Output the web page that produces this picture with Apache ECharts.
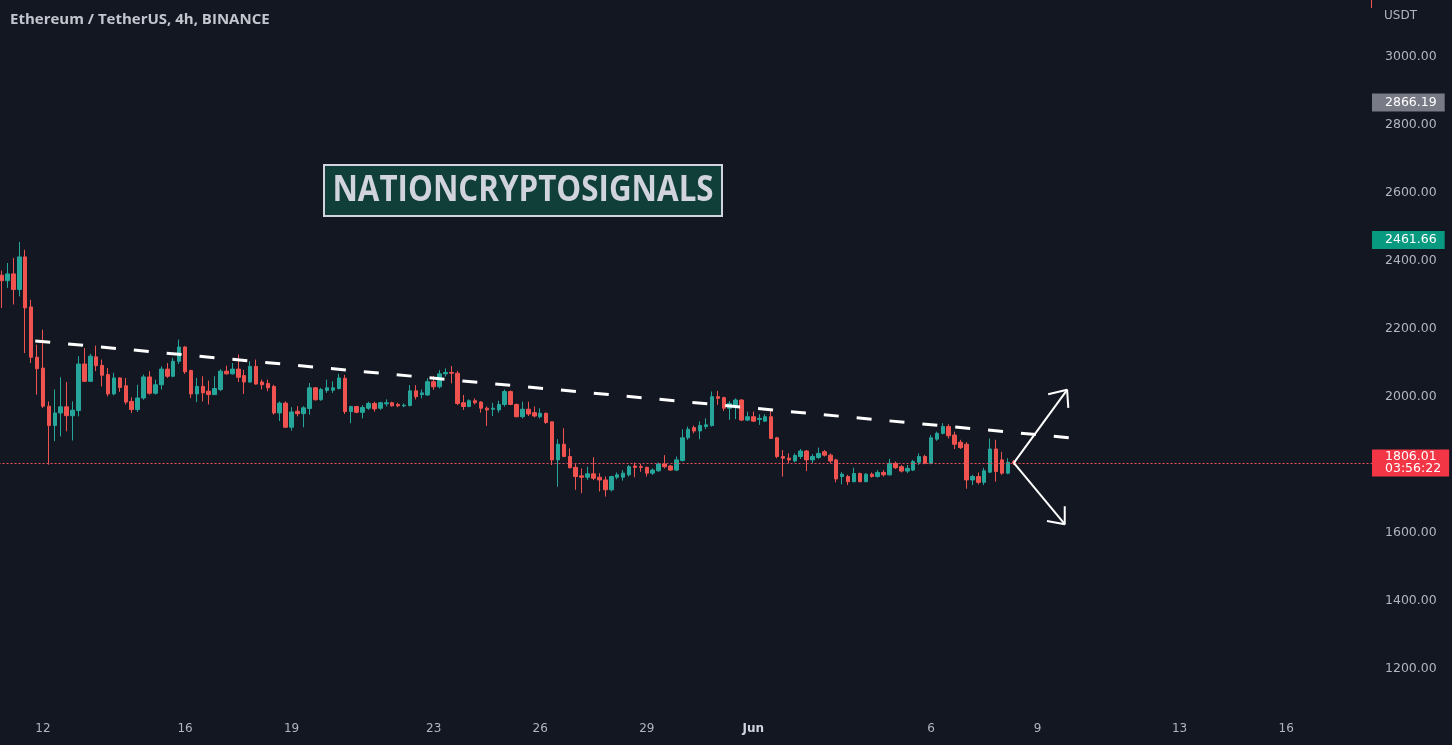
<!DOCTYPE html>
<html><head><meta charset="utf-8">
<script src="https://cdn.jsdelivr.net/npm/echarts@6/dist/echarts.min.js"></script>
<style>html,body{margin:0;padding:0;background:#131722;}#c{width:1452px;height:745px;}</style>
</head><body><div id="c"></div>
<script>
// ---- data ----
const titleText = 'Ethereum / TetherUS, 4h, BINANCE';
const watermarkText = 'NATIONCRYPTOSIGNALS';
const unitText = 'USDT';
const startTimeUTC = Date.UTC(2022, 4, 10, 20); // first visible 4h bar
const slotCount = 232; // bars visible incl. empty future space
// [open, close, low, high]
const candles = [
[2358,2342,2262,2372],[2342,2362,2321,2394],[2362,2316,2272,2409],[2316,2412,2296,2456],[2412,2262,2129,2433],
[2265,2117,2100,2286],[2117,2083,2007,2154],[2085,1973,1968,2198],[1973,1916,1801,1987],[1916,1953,1870,2022],
[1953,1971,1884,2058],[1971,1945,1899,2044],[1945,1961,1872,1987],[1960,2097,1943,2120],[2097,2046,2044,2144],
[2046,2120,2046,2127],[2118,2092,2076,2151],[2093,2064,2031,2110],[2066,2009,2002,2085],[2009,2056,2005,2071],
[2056,2028,2015,2058],[2033,1985,1978,2056],[1987,1963,1953,1999],[1963,1997,1956,2036],[1997,2059,1992,2066],
[2059,2011,2007,2076],[2011,2036,2007,2051],[2036,2082,2022,2090],[2082,2061,2056,2100],[2061,2105,2058,2115],
[2105,2147,2097,2169],[2147,2074,2068,2149],[2078,2009,1997,2080],[2009,2031,1985,2056],[2031,2012,1987,2061],
[2017,2007,1978,2048],[2007,2025,2007,2061],[2022,2076,2017,2082],[2076,2068,2066,2092],[2068,2082,2066,2100],
[2082,2058,2044,2125],[2063,2044,2009,2080],[2044,2090,2041,2105],[2090,2038,2036,2110],[2044,2036,2022,2051],
[2040,2027,2017,2051],[2031,1953,1948,2036],[1953,1982,1929,1987],[1982,1911,1909,1987],[1911,1956,1901,1970],
[1958,1951,1943,1973],[1951,1968,1911,1973],[1966,2027,1948,2041],[2027,1992,1989,2029],[1992,2022,1989,2027],
[2019,2027,2012,2051],[2020,2027,2012,2046],[2025,2056,2022,2068],[2055,1957,1950,2065],[1957,1972,1923,1974],
[1972,1955,1952,1974],[1955,1969,1937,1976],[1967,1981,1962,1986],[1981,1965,1957,1986],[1967,1983,1962,1986],
[1980,1983,1972,1993],[1983,1974,1972,1986],[1978,1974,1970,1983],[1974,1976,1970,1981],[1975,2018,1972,2035],
[2018,2001,1993,2035],[2007,2012,1996,2022],[2006,2045,2003,2055],[2045,2030,2021,2062],[2030,2068,2025,2079],
[2068,2072,2060,2084],[2072,2070,2040,2091],[2070,1981,1976,2077],[1983,1972,1962,2006],[1972,1989,1970,1993],
[1989,1983,1978,1996],[1985,1967,1954,1988],[1967,1962,1915,1972],[1964,1967,1944,1983],[1962,1978,1954,1989],
[1978,2016,1972,2022],[2016,1978,1976,2019],[1978,1942,1940,1981],[1942,1964,1937,1986],[1964,1950,1944,1986],
[1954,1944,1940,1972],[1942,1952,1937,1967],[1952,1925,1921,1954],[1927,1815,1800,1927],[1815,1861,1736,1876],
[1861,1825,1823,1908],[1825,1792,1790,1849],[1793,1766,1727,1805],[1768,1764,1717,1790],[1764,1774,1756,1795],
[1774,1761,1756,1823],[1764,1756,1722,1776],[1756,1727,1707,1766],[1727,1766,1722,1768],[1764,1771,1758,1778],
[1764,1776,1754,1785],[1771,1795,1766,1800],[1797,1793,1764,1807],[1795,1793,1780,1803],[1793,1776,1766,1795],
[1776,1785,1771,1790],[1783,1803,1780,1807],[1803,1795,1790,1829],[1797,1785,1783,1800],[1785,1815,1782,1825],
[1813,1880,1810,1905],[1880,1905,1874,1913],[1910,1900,1893,1916],[1900,1916,1876,1928],[1913,1918,1906,1937],
[1916,2001,1913,2016],[2001,1996,1977,2018],[1998,1967,1959,2001],[1967,1981,1933,1988],[1976,1991,1935,1996],
[1991,1932,1929,1994],[1932,1942,1929,1957],[1942,1929,1927,1957],[1934,1937,1918,1949],[1929,1942,1927,1949],
[1942,1878,1878,1959],[1880,1825,1820,1883],[1825,1820,1766,1844],[1820,1815,1805,1834],[1812,1828,1808,1834],
[1825,1841,1818,1847],[1841,1815,1782,1844],[1815,1825,1805,1832],[1822,1834,1818,1851],[1839,1829,1825,1844],
[1829,1812,1805,1834],[1815,1759,1749,1818],[1766,1773,1743,1779],[1766,1751,1741,1771],[1751,1775,1749,1792],
[1775,1751,1749,1778],[1751,1773,1749,1776],[1773,1766,1763,1778],[1766,1778,1763,1785],[1778,1771,1766,1785],
[1771,1805,1769,1818],[1805,1792,1788,1810],[1795,1782,1778,1800],[1782,1790,1776,1800],[1785,1810,1782,1815],
[1808,1825,1800,1834],[1825,1805,1802,1830],[1805,1880,1802,1888],[1876,1893,1871,1898],[1893,1913,1890,1923],
[1913,1886,1878,1920],[1888,1861,1847,1898],[1867,1851,1847,1874],[1861,1756,1730,1867],[1756,1766,1741,1771],
[1766,1749,1743,1778],[1749,1783,1741,1792],[1779,1847,1776,1878],[1847,1781,1751,1874],[1815,1776,1771,1839],
[1776,1808,1773,1820],[1810,1806.01,1800,1815]
];
const tickKeys   = ['05-12 00','05-16 00','05-19 00','05-23 00','05-26 00','05-29 00','06-01 00','06-06 00','06-09 00','06-13 00','06-16 00'];
const tickLabels = ['12','16','19','23','26','29','Jun','6','9','13','16'];
const yTickValues = [1200,1400,1600,2000,2200,2400,2600,2800,3000];
const yMin = 1088.2, yMax = 3167.6;
const priceTags = [2866.19, 2461.66];
const lastPrice = 1806.01;
const countdown = '03:56:22';
// trendline and arrows in data units (bar index, price)
const trendIdx = [5.7, 180.5];
const trendPrice = [2165, 1880];
const arrowStart = [171, 1806];
const upTip = [180.0, 2021];
const upHeadA = [176.8, 2008];
const upHeadB = [180.2, 1968];
const downTip = [179.6, 1626];
const downHeadA = [179.6, 1679];
const downHeadB = [176.6, 1635];

// ---- build ----
const pad = n => String(n).padStart(2, '0');
const categories = [];
for (let i = 0; i < slotCount; i++) {
  const d = new Date(startTimeUTC + i * 4 * 3600 * 1000);
  categories.push(pad(d.getUTCMonth() + 1) + '-' + pad(d.getUTCDate()) + ' ' + pad(d.getUTCHours()));
}
const tickMap = {};
tickKeys.forEach((k, i) => tickMap[k] = tickLabels[i]);

const UP = '#26a69a', DOWN = '#ef5350';
const FONT = 'DejaVu Sans';
const chart = echarts.init(document.getElementById('c'), null, {renderer: 'canvas'});

function tagLabel(bg, text) {
  return {
    show: true, position: 'end', distance: 0, formatter: text,
    color: '#ffffff', fontFamily: FONT, fontSize: 12.5, lineHeight: 14,
    backgroundColor: bg, padding: [2, 8, 2, 13], align: 'left', opacity: 1
  };
}
const arrowLine = (data) => ({
  type: 'line', xAxisIndex: 1, yAxisIndex: 0, data: data, symbol: 'none', silent: true,
  lineStyle: {color: '#ffffff', width: 2}, z: 10, animation: false
});

chart.setOption({
  backgroundColor: '#131722',
  animation: false,
  title: {
    text: titleText, left: 10, top: 12, padding: 0,
    textStyle: {color: '#c3c6ce', fontFamily: 'Open Sans', fontSize: 15, fontWeight: 'bold'}
  },
  grid: {left: -1.46, right: 80, top: 0, bottom: 38, outerBoundsMode: 'none', containLabel: false},
  xAxis: [{
    type: 'category', data: categories, boundaryGap: true,
    axisLine: {show: false}, axisTick: {show: false}, splitLine: {show: false},
    axisLabel: {
      interval: (idx, val) => tickMap[val] !== undefined,
      formatter: val => tickMap[val] === 'Jun' ? '{b|Jun}' : tickMap[val],
      color: '#b2b5be', fontFamily: FONT, fontSize: 12, margin: 16,
      rich: {b: {color: '#d1d4dc', fontFamily: FONT, fontSize: 12, fontWeight: 'bold'}}
    }
  }, {
    type: 'value', min: -0.5, max: slotCount - 0.5, show: false
  }],
  yAxis: {
    type: 'value', position: 'right', min: yMin, max: yMax, scale: true,
    axisLine: {show: false}, axisTick: {show: false}, splitLine: {show: false},
    axisLabel: {
      customValues: yTickValues, formatter: v => v.toFixed(2),
      color: '#b2b5be', fontFamily: FONT, fontSize: 12.5, margin: 13
    }
  },
  graphic: [
    {type: 'text', left: 1384, top: 10, style: {text: unitText, fill: '#b2b5be', font: '12px "DejaVu Sans"'}},
    {type: 'rect', left: 1371, top: 0, shape: {x: 0, y: 0, width: 1, height: 8}, style: {fill: DOWN}},
    {type: 'group', left: 323, top: 164, children: [
      {type: 'rect', shape: {x: 0, y: 0, width: 398, height: 51},
       style: {fill: '#0f3f38', stroke: '#d1d4dc', lineWidth: 2}},
      {type: 'text', x: 199, y: 26, scaleX: 0.87,
       style: {text: watermarkText, fill: '#d1d4dc', font: 'bold 36px "Open Sans"', align: 'center', verticalAlign: 'middle'}}
    ]}
  ],
  series: [{
    type: 'candlestick', data: candles, barWidth: 4,
    itemStyle: {color: UP, color0: DOWN, borderColor: UP, borderColor0: DOWN, borderWidth: 1},
    markLine: {
      symbol: ['none', 'none'], silent: true, animation: false, precision: 2,
      lineStyle: {color: DOWN, type: [2, 2], width: 1, opacity: 1},
      data: [
        {yAxis: priceTags[0], lineStyle: {color: 'rgba(0,0,0,0)', width: 0}, label: tagLabel('#787b86', priceTags[0].toFixed(2))},
        {yAxis: priceTags[1], lineStyle: {color: 'rgba(0,0,0,0)', width: 0}, label: tagLabel('#089981', priceTags[1].toFixed(2))},
        {yAxis: lastPrice, lineStyle: {color: '#f0515e', type: [2, 2], width: 1, opacity: 1},
         label: Object.assign(tagLabel('#f23645', lastPrice.toFixed(2) + '\n' + countdown), {lineHeight: 12.5, padding: [1, 8, 1, 13]})}
      ]
    }
  }, {
    type: 'line', xAxisIndex: 1, yAxisIndex: 0, symbol: 'none', silent: true, z: 10,
    data: [[trendIdx[0], trendPrice[0]], [trendIdx[1], trendPrice[1]]],
    lineStyle: {color: '#ffffff', width: 3, type: [15, 18]}
  },
  arrowLine([arrowStart, upTip]),
  arrowLine([upHeadA, upTip, upHeadB]),
  arrowLine([arrowStart, downTip]),
  arrowLine([downHeadA, downTip, downHeadB])
  ]
});
</script>
</body></html>
